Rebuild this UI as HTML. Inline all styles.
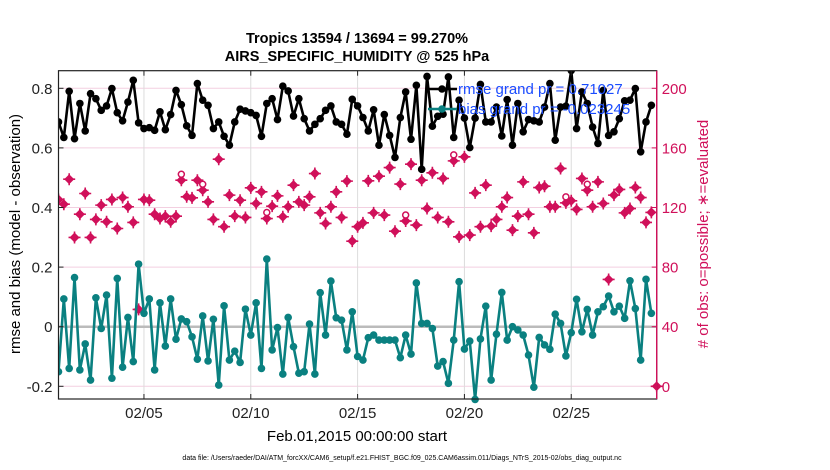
<!DOCTYPE html>
<html><head><meta charset="utf-8">
<style>
body{margin:0;background:#fff;overflow:hidden;}
svg{display:block;font-family:"Liberation Sans",Arial,sans-serif;}
</style></head>
<body>
<svg id="chart" width="830" height="470" viewBox="0 0 830 470" xmlns="http://www.w3.org/2000/svg">
<text x="357" y="43" text-anchor="middle" font-size="14.5" font-weight="bold">Tropics 13594 / 13694 = 99.270%</text>
<text x="357" y="61" text-anchor="middle" font-size="14.5" font-weight="bold">AIRS_SPECIFIC_HUMIDITY @ 525 hPa</text>
<g id="grid"></g>
<g id="marks"></g>
<g id="axes"></g>
<text transform="translate(20,234) rotate(-90)" text-anchor="middle" font-size="15">rmse and bias (model - observation)</text>
<text transform="translate(708,234) rotate(-90)" text-anchor="middle" font-size="15" fill="#d0105a">#  of obs: o=possible; ∗=evaluated</text>
<text x="357" y="441" text-anchor="middle" font-size="15">Feb.01,2015 00:00:00 start</text>
<text x="402" y="460" text-anchor="middle" font-size="7">data file: /Users/raeder/DAI/ATM_forcXX/CAM6_setup/f.e21.FHIST_BGC.f09_025.CAM6assim.011/Diags_NTrS_2015-02/obs_diag_output.nc</text>
<g id="legend"></g>
</svg>
<script>
const rmse=[.687,.635,.790,.631,.749,.657,.782,.765,.726,.741,.799,.718,.691,.754,.827,.684,.665,.668,.659,.721,.661,.712,.793,.745,.674,.642,.816,.760,.743,
.665,.687,.639,.609,.687,.730,.724,.718,.709,.639,.749,.765,.695,.807,.791,.707,.765,.698,.657,.679,.698,.726,.741,.687,.679,.646,.763,.741,
.702,.657,.728,.609,.712,.642,.568,.702,.788,.629,.810,.528,.840,.673,.706,.713,.838,.635,.760,.700,.601,.700,.813,.687,.687,.737,.640,
.762,.609,.749,.654,.695,.691,.687,.737,.816,.626,.737,.740,.860,.665,.788,.749,.670,.615,.793,.642,.654,.698,.758,.760,.799,.587,.687,.743];
const bias=[-.151,.093,-.140,.165,-.145,-.058,-.179,.097,-.006,.106,-.173,.162,-.136,.031,-.117,.210,.045,.093,-.145,.080,-.065,.093,-.042,.026,.017,-.034,-.109,.036,-.115,
.025,-.196,.070,-.112,-.082,-.120,.059,-.028,.080,-.140,.227,-.078,-.003,-.159,.031,-.067,-.156,-.151,.009,-.159,.114,-.028,.153,.030,.022,-.078,.050,-.100,
-.112,-.037,-.028,-.045,-.045,-.045,-.045,-.104,-.028,-.092,.147,.011,.011,-.006,-.132,-.117,-.190,-.045,.151,-.075,-.048,-.244,-.041,.069,-.179,-.025,.115,
-.045,0,-.011,-.028,-.095,-.203,-.036,-.061,-.076,.042,.011,-.098,-.020,.092,-.017,.058,-.028,.050,.067,.103,.050,.069,.028,.154,.061,-.112,.159,.045];
const nEval=[125.4,122.2,139.0,99.9,115.5,129.4,99.9,112.0,121.6,110.4,125.4,105.9,126.7,120.5,110.0,51.6,125.4,124.9,115.5,112.6,114.2,110.4,114.2,138.3,127.2,126.5,138.3,131.6,123.8,
112.0,152.4,107.1,128.3,114.2,124.9,113.3,133.2,122.7,130.5,112.6,120.9,127.8,113.8,120.5,135.0,123.8,121.6,127.2,142.8,116.4,109.3,120.5,130.5,113.3,137.7,97.4,107.1,
109.7,137.9,116.4,141.0,114.9,146.8,104.1,135.7,110.9,149.1,108.2,138.3,119.3,143.3,113.3,139.5,110.4,151.3,100.3,154.0,101.5,129.8,107.1,135.0,107.5,112.0,120.5,
126.7,104.8,114.2,137.2,115.5,103.0,133.4,134.3,120.5,120.5,146.2,123.1,124.5,118.7,139.5,131.6,120.5,137.2,122.7,71.7,128.3,132.1,116.4,119.3,133.4,126.7,110.0,116.7];
const possibleIdx=[23,27,39,65,74,95,99];
const dayTicks=[5,10,15,20,25];
const tickLabels=["02/05","02/10","02/15","02/20","02/25"];
const leftTicks=[0.8,0.6,0.4,0.2,0,-0.2];
const rightTicks=[200,160,120,80,40,0];
const legendLabels=["rmse grand pr = 0.71027","bias grand pr = -0.023245"];

const L=58.5,R=656.7,T=70.7,B=399;
const NS="http://www.w3.org/2000/svg";
const xs=d=>L+(d)*(R-L)/28;
const yl=v=>326.7-v*298;
const yr=c=>yl((c-40)/200);
function mk(tag,attrs,parent){const e=document.createElementNS(NS,tag);for(const k in attrs)e.setAttribute(k,attrs[k]);parent.appendChild(e);return e;}
const grid=document.getElementById('grid'),marks=document.getElementById('marks'),axes=document.getElementById('axes'),leg=document.getElementById('legend');

mk('rect',{x:L,y:T,width:R-L,height:B-T,fill:'#fff'},grid);
leftTicks.forEach(v=>{const g=mk('line',{x1:L,x2:R,y1:yl(v),y2:yl(v),stroke:'#f3cfe0','stroke-width':1},grid);

});
dayTicks.forEach(d=>{const g=mk('line',{x1:xs(d-1),x2:xs(d-1),y1:T,y2:B,stroke:'#dcdcdc','stroke-width':1},grid);

});
const zl=mk('line',{x1:L,x2:R,y1:yl(0),y2:yl(0),stroke:'#bbbbbb','stroke-width':2.5},grid);



const clip=mk('clipPath',{id:'pc'},marks);mk('rect',{x:L,y:T,width:R-L,height:B-T+6},clip);
const mg=mk('g',{'clip-path':'url(#pc)'},marks);

function star(cx,cy,parent){const g=mk('g',{},parent);
mk('path',{d:`M${cx-5} ${cy}L${cx} ${cy-5}L${cx+5} ${cy}L${cx} ${cy+5}Z`,fill:'#d0105a'},g);
mk('path',{d:`M${cx-6} ${cy}H${cx+6}M${cx} ${cy-6}V${cy+6}`,stroke:'#d0105a','stroke-width':1.6},g);return g;}
nEval.forEach((c,i)=>{const g=star(xs(i*0.25),yr(c),mg);

});
possibleIdx.forEach(i=>{const c=mk('circle',{cx:xs(i*0.25),cy:yr(nEval[i])-6,r:3,fill:'#fff',stroke:'#d0105a','stroke-width':1.5},mg);

});

function series(vals,color,name){
const p=mk('polyline',{points:vals.map((v,i)=>xs(i*0.25)+','+yl(v)).join(' '),fill:'none',stroke:color,'stroke-width':2.6,'stroke-linejoin':'round'},mg);


vals.forEach((v,i)=>{const c=mk('circle',{cx:xs(i*0.25),cy:yl(v),r:3.8,fill:color},mg);

});}
series(bias,'#0a8080','bias');
series(rmse,'#000','rmse');

const tm=star(R,yr(0),marks);



mk('rect',{x:L,y:T,width:R-L,height:B-T,fill:'none',stroke:'#222','stroke-width':1.2},axes);
const ra=mk('line',{x1:R,x2:R,y1:T,y2:B,stroke:'#d0105a','stroke-width':1.4},axes);


leftTicks.forEach(v=>{mk('line',{x1:L,x2:L+5,y1:yl(v),y2:yl(v),stroke:'#222'},axes);
const t=mk('text',{x:L-6,y:yl(v)+5.5,'text-anchor':'end','font-size':15,fill:'#222'},axes);t.textContent=String(v);

});
rightTicks.forEach(c=>{mk('line',{x1:R-5,x2:R,y1:yr(c),y2:yr(c),stroke:'#d0105a'},axes);
const t=mk('text',{x:R+5,y:yr(c)+5.5,'font-size':15,fill:'#d0105a'},axes);t.textContent=String(c);

});
dayTicks.forEach((d,k)=>{mk('line',{x1:xs(d-1),x2:xs(d-1),y1:B,y2:B-5,stroke:'#222'},axes);mk('line',{x1:xs(d-1),x2:xs(d-1),y1:T,y2:T+5,stroke:'#222'},axes);
const t=mk('text',{x:xs(d-1),y:418,'text-anchor':'middle','font-size':15,fill:'#222'},axes);t.textContent=tickLabels[k];

});

[['#000',89],['#0a8080',109]].forEach((s,k)=>{
const g=mk('g',{},leg);


mk('line',{x1:428,x2:457,y1:s[1],y2:s[1],stroke:s[0],'stroke-width':2.6},g);
mk('circle',{cx:442,cy:s[1],r:3.8,fill:s[0]},g);
const t=mk('text',{x:458,y:s[1]+5,'font-size':15,fill:'#1a4cff'},g);t.textContent=legendLabels[k];});
</script>
</body></html>
